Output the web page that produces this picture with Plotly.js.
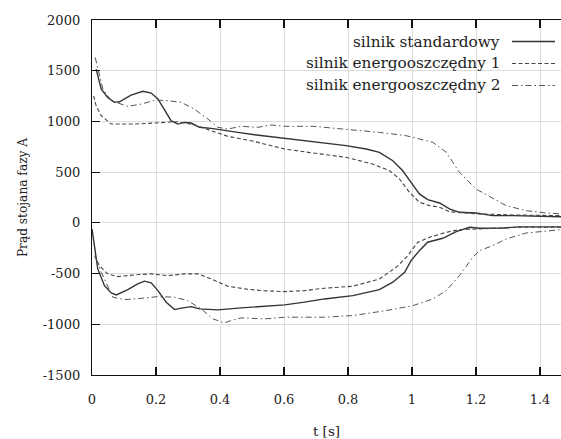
<!DOCTYPE html>
<html>
<head>
<meta charset="utf-8">
<script src="https://cdn.plot.ly/plotly-3.0.1.min.js"></script>
<style>html,body{margin:0;padding:0;background:#fff;}#chart{width:561px;height:439px;}</style>
</head>
<body>
<div id="chart"></div>
<script>
// Series names
const seriesNames = ["silnik standardowy", "silnik energooszczędny 1", "silnik energooszczędny 2"];

// Standard motor – upper and lower envelope
const stdUpT = [0.013,0.029,0.049,0.07,0.086,0.122,0.159,0.185,0.206,0.227,0.247,0.268,0.289,0.31,0.336,0.372,0.414,0.456,0.508,0.55,0.602,0.69,0.794,0.857,0.898,0.94,0.971,0.997,1.023,1.049,1.086,1.117,1.148,1.2,1.252,1.315,1.466];
const stdUpI = [1515,1318,1237,1188,1194,1260,1297,1280,1221,1105,1007,974,991,984,942,932,915,892,869,853,833,800,761,728,695,613,514,400,285,229,196,137,104,97,71,71,60];
const stdLoT = [0,0.008,0.018,0.039,0.06,0.076,0.112,0.143,0.164,0.185,0.206,0.232,0.258,0.279,0.31,0.336,0.393,0.466,0.539,0.602,0.664,0.727,0.815,0.898,0.94,0.977,0.997,1.023,1.049,1.096,1.138,1.18,1.211,1.284,1.336,1.466];
const stdLoI = [-60,-257,-454,-619,-691,-710,-658,-602,-575,-592,-668,-782,-855,-841,-826,-848,-858,-838,-822,-809,-782,-750,-717,-658,-585,-487,-372,-274,-191,-152,-87,-43,-53,-50,-40,-40];

// Energy-saving motor 1
const e1UpT = [0.005,0.013,0.029,0.06,0.133,0.206,0.268,0.32,0.372,0.424,0.497,0.56,0.602,0.69,0.794,0.877,0.93,0.961,0.992,1.023,1.055,1.086,1.117,1.17,1.211,1.315,1.466];
const e1UpI = [1253,1155,1056,974,974,984,997,965,909,853,810,761,728,689,646,580,514,432,301,203,170,154,110,97,88,78,71];
const e1LoT = [0.008,0.023,0.049,0.081,0.133,0.185,0.237,0.289,0.331,0.372,0.424,0.477,0.529,0.602,0.664,0.727,0.815,0.898,0.951,0.987,1.018,1.055,1.107,1.148,1.211,1.336,1.466];
const e1LoI = [-323,-422,-503,-530,-513,-503,-520,-503,-503,-553,-625,-651,-668,-678,-668,-644,-625,-553,-437,-323,-191,-142,-93,-67,-60,-43,-43];

// Energy-saving motor 2
const e2UpT = [0.01,0.018,0.034,0.06,0.112,0.154,0.2,0.237,0.279,0.32,0.362,0.393,0.424,0.466,0.518,0.56,0.602,0.69,0.794,0.898,0.982,1.065,1.107,1.148,1.2,1.252,1.294,1.357,1.419,1.466];
const e2UpI = [1631,1516,1319,1204,1149,1171,1211,1204,1188,1122,1024,942,925,952,942,965,952,952,925,892,859,794,696,499,334,245,170,120,97,90];
const e2LoT = [0.013,0.029,0.065,0.102,0.159,0.206,0.258,0.299,0.341,0.378,0.414,0.435,0.466,0.539,0.602,0.727,0.815,0.919,1.003,1.065,1.107,1.148,1.19,1.211,1.252,1.294,1.357,1.419,1.466];
const e2LoI = [-355,-487,-733,-757,-743,-727,-733,-766,-848,-947,-986,-963,-937,-947,-930,-930,-914,-865,-816,-750,-668,-520,-339,-274,-225,-159,-100,-77,-67];

// Axis ticks
const xTickVals = [0,0.2,0.4,0.6,0.8,1,1.2,1.4];
const xTickText = ["0","0.2","0.4","0.6","0.8","1","1.2","1.4"];
const yTickVals = [-1500,-1000,-500,0,500,1000,1500,2000];
const yTickText = ["-1500","-1000","-500","0","500","1000","1500","2000"];

const styles = [
  {color:"#333333", width:1.4, dash:"solid"},
  {color:"#444444", width:1.1, dash:"4px,2.5px"},
  {color:"#555555", width:1.0, dash:"6px,3px,1.5px,3px"}
];

const groups = [
  [[stdUpT,stdUpI],[stdLoT,stdLoI]],
  [[e1UpT,e1UpI],[e1LoT,e1LoI]],
  [[e2UpT,e2UpI],[e2LoT,e2LoI]]
];

const traces = [];
groups.forEach((g, i) => {
  g.forEach(([t, I]) => {
    traces.push({
      x: t, y: I, type: "scatter", mode: "lines",
      name: seriesNames[i], showlegend: false, hoverinfo: "skip",
      line: {color: styles[i].color, width: styles[i].width, dash: styles[i].dash}
    });
  });
});

const FONT = "DejaVu Serif, Liberation Serif, serif";
const plotL = 92, plotT = 20, plotW = 469, plotH = 355;

// legend built from annotations + sample line shapes (text left of sample)
const legendRowsPx = [41.5, 63.5, 85.5];
const annotations = [], shapes = [];
seriesNames.forEach((n, i) => {
  const py = (plotT + plotH - legendRowsPx[i]) / plotH;
  annotations.push({
    xref:"paper", yref:"paper", x:(502 - plotL)/plotW, y:py,
    xanchor:"right", yanchor:"middle", showarrow:false, text:n,
    font:{family:FONT, size:15.3, color:"#222"}
  });
  shapes.push({
    type:"line", xref:"paper", yref:"paper",
    x0:(512 - plotL)/plotW, x1:(555 - plotL)/plotW, y0:py, y1:py,
    line:{color:styles[i].color, width:styles[i].width, dash:styles[i].dash}
  });
});

const layout = {
  width:561, height:439,
  margin:{l:plotL, r:0, t:plotT, b:439 - plotT - plotH, pad:0},
  paper_bgcolor:"#fff", plot_bgcolor:"#fff",
  font:{family:FONT, size:13, color:"#222"},
  showlegend:false,
  xaxis:{
    range:[0, 1.4656], tickvals:xTickVals, ticktext:xTickText,
    showgrid:true, gridcolor:"#dcdcdc", gridwidth:1,
    zeroline:false, showline:true, linecolor:"#111", linewidth:1.2,
    mirror:"ticks", ticks:"inside", ticklen:8, tickcolor:"#111", tickwidth:1.2,
    ticklabelstandoff:12,
    tickfont:{family:FONT, size:13, color:"#222"},
    title:{text:"t [s]", font:{family:FONT, size:13.5, color:"#222"}, standoff:22}
  },
  yaxis:{
    range:[-1500, 2000], tickvals:yTickVals, ticktext:yTickText,
    showgrid:true, gridcolor:"#dcdcdc", gridwidth:1,
    zeroline:false, showline:true, linecolor:"#111", linewidth:1.2,
    ticks:"inside", ticklen:8, tickcolor:"#111", tickwidth:1.2,
    ticklabelstandoff:8,
    tickfont:{family:FONT, size:13, color:"#222"},
    title:{text:"Prąd stojana fazy A", font:{family:FONT, size:12.2, color:"#222"}, standoff:12}
  },
  annotations:annotations,
  shapes:shapes
};

Plotly.newPlot("chart", traces, layout, {displayModeBar:false, staticPlot:true});
</script>
</body>
</html>
